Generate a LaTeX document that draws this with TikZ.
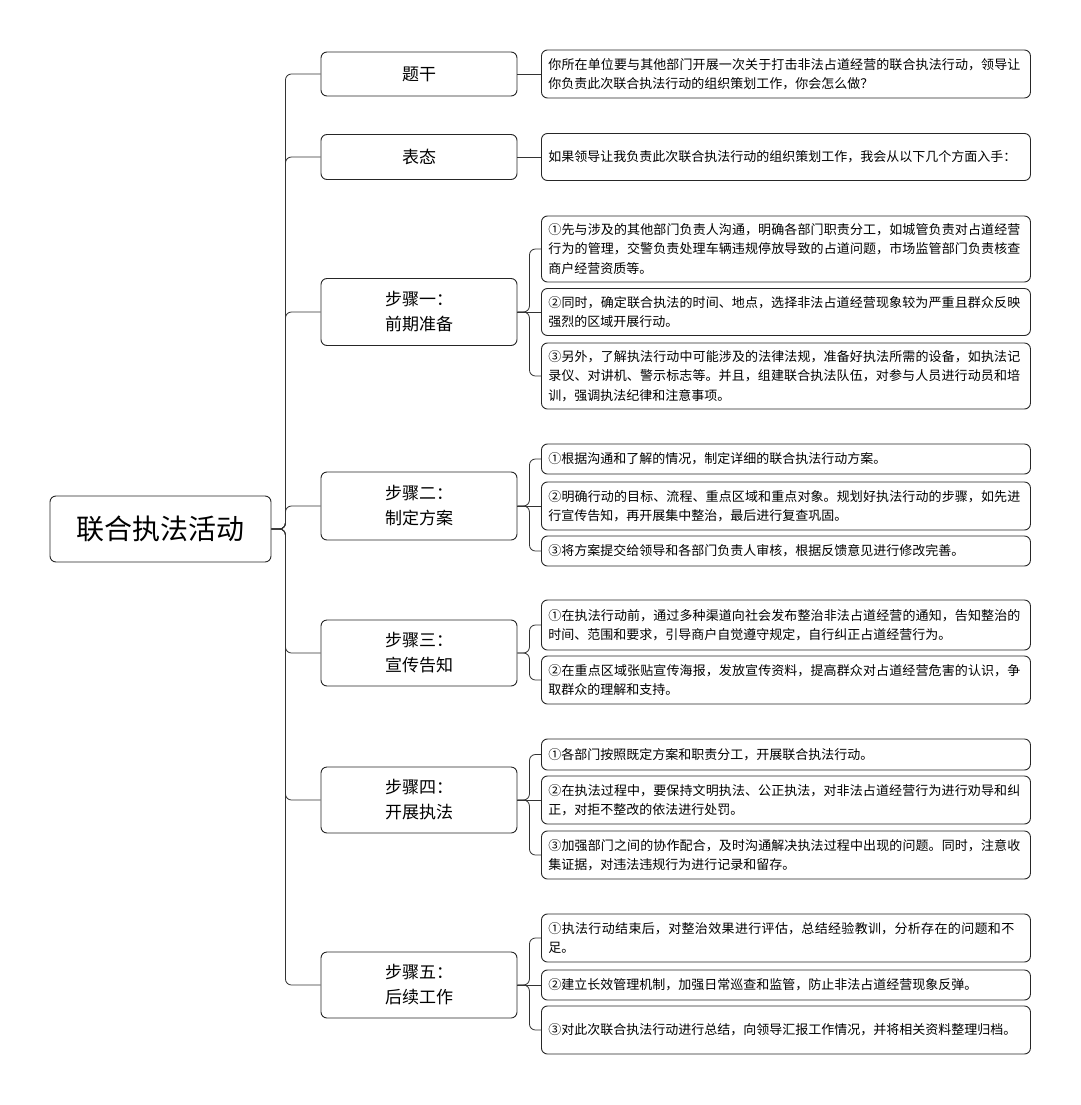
\documentclass[tikz,border=0pt]{standalone}
\usepackage{fontspec}
\setmainfont{Noto Sans CJK SC}
\XeTeXlinebreaklocale "zh"
\XeTeXlinebreakskip=0pt plus 1pt
\begin{document}
\begin{tikzpicture}[x=1pt,y=-1pt,
 box/.style={draw=black!85,line width=0.9pt,rounded corners=6pt,inner sep=0pt},
 rbox/.style={box,inner xsep=7pt,text width=475pt,align=left,font=\fontsize{13}{19.5}\selectfont},
 mbox/.style={box,minimum width=196pt,align=center,font=\fontsize{17}{25}\selectfont},
 ln/.style={draw=black!80,line width=0.8pt,rounded corners=6pt}]
\useasboundingbox (0,0) rectangle (1080,1105);
\node[box,minimum width=221pt,minimum height=66pt,font=\fontsize{28}{32}\selectfont] (root) at (160.5,529) {联合执法活动};
\def\mb#1#2#3#4{\node[mbox,minimum height=#3pt] (#1) at (419,#2) {#4};}
\mb{m0}{74}{44}{题干}
\mb{m1}{157}{45}{表态}
\mb{m2}{312}{67}{步骤一：\\前期准备}
\mb{m3}{506}{68}{步骤二：\\制定方案}
\mb{m4}{653}{66}{步骤三：\\宣传告知}
\mb{m5}{800}{66}{步骤四：\\开展执法}
\mb{m6}{985}{66}{步骤五：\\后续工作}
\foreach \m in {m0,m1,m2,m3,m4,m5,m6}{\draw[ln] (root.east) -- ++(14,0) |- (\m.west);}
\def\rn#1#2#3#4{\node[rbox,minimum height=#3pt,anchor=west] (#1) at (541,#2) {#4};}
\def\rb#1#2#3#4#5{\rn{#1}{#3}{#4}{#5}\draw[ln] (#2.east) -- ++(12,0) |- (#1.west);}
\def\rs#1#2#3#4#5{\rn{#1}{#3}{#4}{#5}\draw[ln] (#2.east) -- (#1.west);}
\rs{a0}{m0}{74}{48}{你所在单位要与其他部门开展一次关于打击非法占道经营的联合执法行动，领导让你负责此次联合执法行动的组织策划工作，你会怎么做？}
\rs{a1}{m1}{157}{47}{如果领导让我负责此次联合执法行动的组织策划工作，我会从以下几个方面入手：}
\rb{b1}{m2}{249}{66}{①先与涉及的其他部门负责人沟通，明确各部门职责分工，如城管负责对占道经营行为的管理，交警负责处理车辆违规停放导致的占道问题，市场监管部门负责核查商户经营资质等。}
\rs{b2}{m2}{312}{47}{②同时，确定联合执法的时间、地点，选择非法占道经营现象较为严重且群众反映强烈的区域开展行动。}
\rb{b3}{m2}{376}{66}{③另外，了解执法行动中可能涉及的法律法规，准备好执法所需的设备，如执法记录仪、对讲机、警示标志等。并且，组建联合执法队伍，对参与人员进行动员和培训，强调执法纪律和注意事项。}
\rb{c1}{m3}{459}{30}{①根据沟通和了解的情况，制定详细的联合执法行动方案。}
\rs{c2}{m3}{506}{48}{②明确行动的目标、流程、重点区域和重点对象。规划好执法行动的步骤，如先进行宣传告知，再开展集中整治，最后进行复查巩固。}
\rb{c3}{m3}{551}{30}{③将方案提交给领导和各部门负责人审核，根据反馈意见进行修改完善。}
\rb{d1}{m4}{625}{50}{①在执法行动前，通过多种渠道向社会发布整治非法占道经营的通知，告知整治的时间、范围和要求，引导商户自觉遵守规定，自行纠正占道经营行为。}
\rb{d2}{m4}{680}{48}{②在重点区域张贴宣传海报，发放宣传资料，提高群众对占道经营危害的认识，争取群众的理解和支持。}
\rb{e1}{m5}{754.5}{31}{①各部门按照既定方案和职责分工，开展联合执法行动。}
\rs{e2}{m5}{800}{48}{②在执法过程中，要保持文明执法、公正执法，对非法占道经营行为进行劝导和纠正，对拒不整改的依法进行处罚。}
\rb{e3}{m5}{855}{48}{③加强部门之间的协作配合，及时沟通解决执法过程中出现的问题。同时，注意收集证据，对违法违规行为进行记录和留存。}
\rb{f1}{m6}{938}{48}{①执法行动结束后，对整治效果进行评估，总结经验教训，分析存在的问题和不足。}
\rs{f2}{m6}{985}{30}{②建立长效管理机制，加强日常巡查和监管，防止非法占道经营现象反弹。}
\rb{f3}{m6}{1030}{48}{③对此次联合执法行动进行总结，向领导汇报工作情况，并将相关资料整理归档。}
\end{tikzpicture}
\end{document}
